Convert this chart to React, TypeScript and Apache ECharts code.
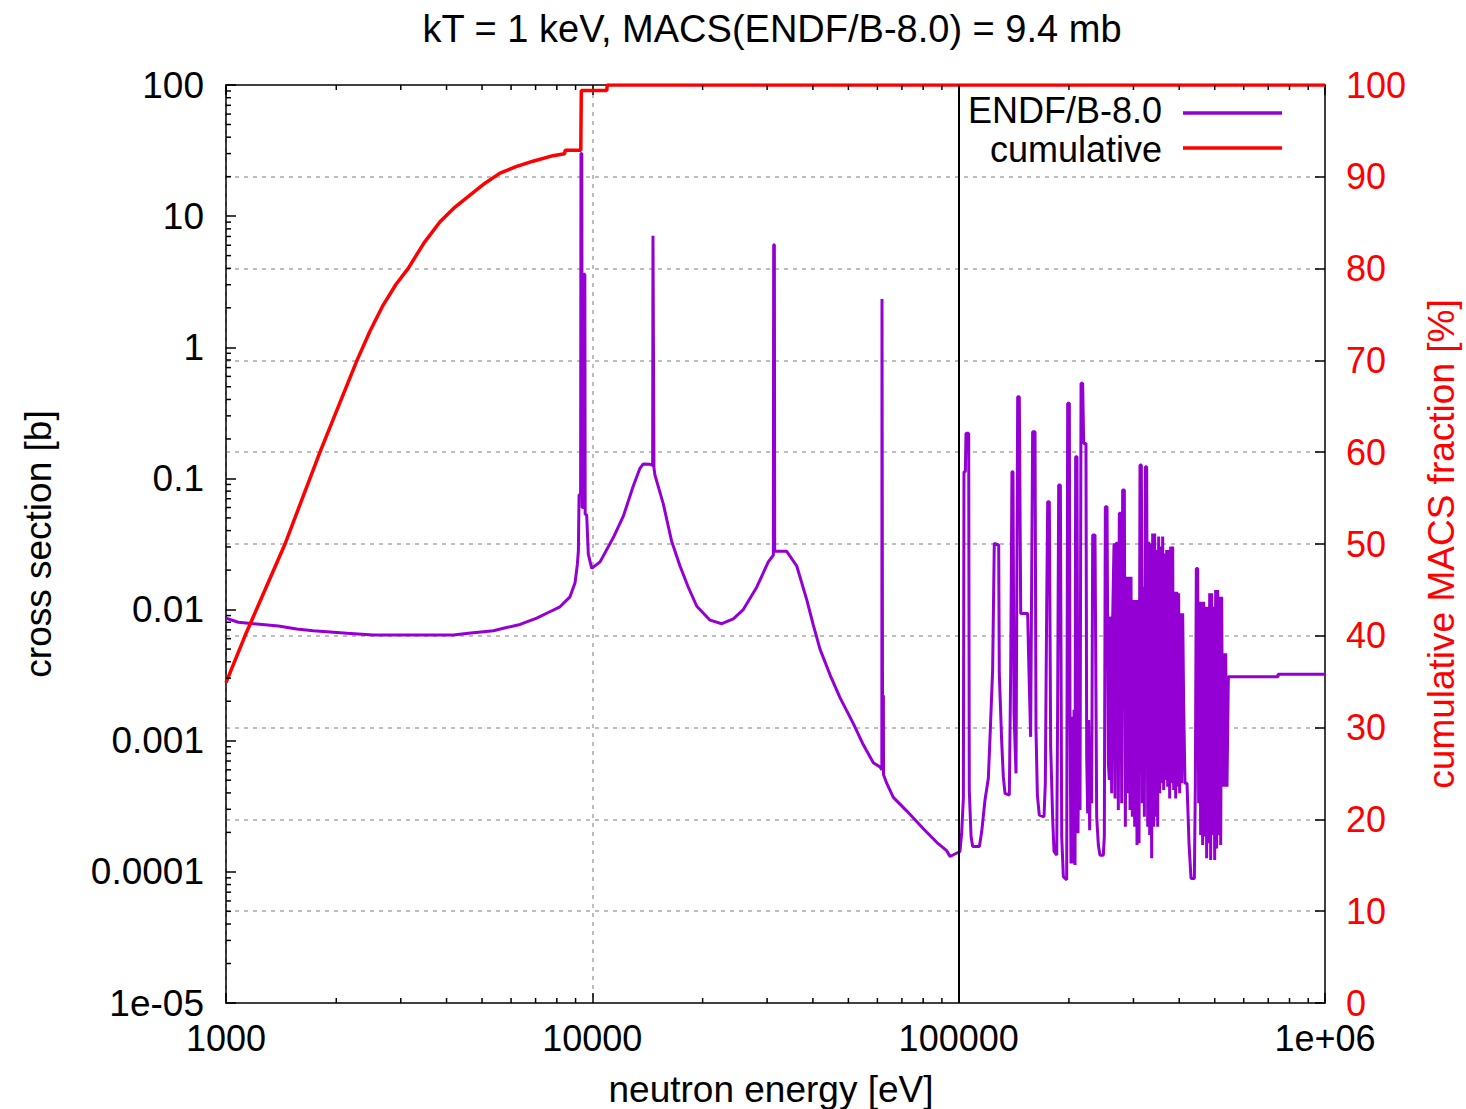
import React, { useEffect, useRef } from 'react';
import * as echarts from 'echarts';

const FONT = '"Liberation Sans", Arial, Helvetica, sans-serif';
const PURPLE = '#9400d3';
const RED = '#ff0000';

// ---- tick labels ----
const xTickValues = [1000, 10000, 100000, 1000000];
const xTickLabels = ['1000', '10000', '100000', '1e+06'];
const yTickValues = [1e-5, 1e-4, 1e-3, 1e-2, 0.1, 1, 10, 100];
const yTickLabels = ['1e-05', '0.0001', '0.001', '0.01', '0.1', '1', '10', '100'];
const xMinorTicks = [
  2000, 3000, 4000, 5000, 6000, 7000, 8000, 9000,
  20000, 30000, 40000, 50000, 60000, 70000, 80000, 90000,
  200000, 300000, 400000, 500000, 600000, 700000, 800000, 900000,
];
const yMinorTicks = [
  2e-5, 3e-5, 4e-5, 5e-5, 6e-5, 7e-5, 8e-5, 9e-5,
  2e-4, 3e-4, 4e-4, 5e-4, 6e-4, 7e-4, 8e-4, 9e-4,
  0.002, 0.003, 0.004, 0.005, 0.006, 0.007, 0.008, 0.009,
  0.02, 0.03, 0.04, 0.05, 0.06, 0.07, 0.08, 0.09,
  0.2, 0.3, 0.4, 0.5, 0.6, 0.7, 0.8, 0.9,
  2, 3, 4, 5, 6, 7, 8, 9,
  20, 30, 40, 50, 60, 70, 80, 90,
];

// ---- ENDF/B-8.0 cross section [eV, barn] ----
const xsLowEnergy: number[][] = [
  [1000, 0.0086], [1080, 0.0080], [1390, 0.0075], [1560, 0.0071], [1730, 0.0069], [2140, 0.0066],
  [2520, 0.0064], [4170, 0.0064], [4590, 0.0066], [5370, 0.0069], [5720, 0.0072], [6350, 0.0077],
  [7050, 0.0086], [7580, 0.0095], [8160, 0.0105], [8690, 0.0125], [8970, 0.016], [9100, 0.022], [9160, 0.028],
];
const xsResolved: number[][] = [
  [9200, 0.075], [9290, 0.075], [9310, 30], [9360, 30], [9380, 0.06], [9470, 0.06], [9490, 3.6], [9540, 3.6],
  [9560, 0.053], [9650, 0.053], [9750, 0.0265], [9960, 0.0206], [10500, 0.0231], [11410, 0.0354],
  [12150, 0.0515], [12935, 0.0875], [13490, 0.1195], [13772, 0.129], [14370, 0.128], [14610, 0.126],
  [14640, 7.1], [14700, 7.1], [14730, 0.12], [14825, 0.106], [15620, 0.064], [16470, 0.033],
  [17350, 0.0215], [18280, 0.0148], [19280, 0.0106], [20960, 0.0083], [22560, 0.0078], [24260, 0.0085],
  [25830, 0.0100], [28100, 0.0148], [30220, 0.0231], [31200, 0.026], [31260, 6.05], [31400, 6.05],
  [31460, 0.0278], [33930, 0.0278], [36140, 0.0215], [38480, 0.0119], [40110, 0.0076], [41830, 0.00499],
  [44550, 0.00318], [47430, 0.00213], [51580, 0.00135], [54930, 0.00093], [58480, 0.00068], [61000, 0.00063],
  [61700, 0.0006], [61760, 2.33], [61900, 2.33], [61960, 0.0022], [62300, 0.0022], [62360, 0.00055],
  [63610, 0.000474], [66310, 0.00037], [72110, 0.000292], [80100, 0.000213], [87100, 0.000168], [92750, 0.000145],
];
const xsUnresolvedA: number[][] = [
  [94700, 1.31e-4], [100800, 1.43e-4], [101900, 1.97e-4], [103000, 3.64e-4], [103400, 0.1126], [104300, 0.1126],
  [104700, 0.221], [106500, 0.221], [106900, 4.21e-4], [108100, 1.86e-4], [109200, 1.56e-4], [113900, 1.56e-4],
  [115600, 2.03e-4], [118000, 3.53e-4], [120500, 5.17e-4], [121800, 1.07e-3], [123800, 3.46e-3], [125100, 0.032],
  [128600, 0.0311], [129100, 3.26e-3], [131000, 1.01e-3], [132400, 5.32e-4], [133800, 3.97e-4], [137500, 3.85e-4],
  [138700, 3.56e-3], [139800, 0.1126], [140700, 0.1126], [141600, 1.62e-3], [143400, 5.64e-4], [144900, 0.42],
  [146400, 0.42], [147700, 9.35e-3], [154300, 9.35e-3], [155300, 4.12e-3], [157200, 1.07e-3], [159200, 0.227],
  [161600, 0.227], [162600, 1.21e-3], [164000, 3.85e-4], [166000, 2.71e-4], [171000, 2.63e-4], [172400, 4.73e-4],
  [173900, 0.01052], [175000, 0.0665], [176800, 0.0665], [178300, 9.0e-4], [180600, 2.48e-4], [182100, 1.43e-4],
  [185200, 1.34e-4], [186300, 1.93e-3], [187500, 0.0891], [189500, 0.0891], [191100, 1.86e-4], [193100, 9.2e-5],
  [197200, 8.7e-5], [198400, 0.374], [200500, 0.374], [201300, 1.72e-3], [202600, 1.16e-4], [203900, 1.52e-3],
  [205200, 1.16e-4], [206500, 1.72e-3], [207800, 1.13e-4], [208600, 0.1465], [210400, 0.1465], [211700, 1.97e-4],
  [213100, 1.93e-3], [214400, 2.96e-4], [215800, 0.531], [218000, 0.531], [219400, 0.185], [222600, 0.185],
  [223600, 7.56e-4], [225000, 2.79e-4], [226400, 1.44e-3], [227800, 2.08e-4], [229300, 1.07e-3], [230700, 3.33e-4],
  [232200, 0.037], [234100, 0.037],
];
const xsUnresolvedB: number[][] = [
  [235600, 0.037], [238100, 2.63e-4], [240600, 1.6e-4], [243100, 1.34e-4], [248300, 1.34e-4], [249800, 1.86e-4],
  [251400, 0.0609], [254100, 0.0609], [256200, 6.73e-4], [257800, 5.02e-4], [259400, 0.00884], [261600, 3.97e-4],
  [263300, 0.00884], [265500, 0.032], [267200, 3.63e-4], [268800, 0.032], [271100, 0.032], [272800, 2.96e-4],
  [274500, 0.0542], [276800, 0.0542], [278600, 3.33e-4], [280300, 0.0816], [283300, 0.0816], [285100, 2.21e-4],
  [286900, 0.0178], [289300, 3.97e-4], [291100, 0.0178], [293600, 2.96e-4], [295400, 0.0178], [297900, 2.63e-4],
  [299800, 0.01182], [302300, 2.21e-4], [304200, 0.01182], [306800, 1.6e-4], [308700, 0.01182], [310700, 1.65e-4],
  [312600, 0.1266], [315300, 0.1266], [317200, 3.33e-4], [319200, 0.01494], [321300, 2.63e-4], [323300, 0.1229],
  [326000, 0.1229], [328100, 2.21e-4], [330100, 0.0329], [332200, 1.91e-4], [334300, 0.032], [336400, 1.27e-4],
  [338500, 0.0381], [340700, 2.21e-4], [342800, 0.0381], [345000, 2.63e-4], [347100, 0.0285], [349300, 2.21e-4],
  [351500, 0.036], [353800, 3.97e-4], [356000, 0.0302], [358200, 4.73e-4], [360500, 0.036], [362800, 4.21e-4],
  [365100, 0.0268], [367400, 5.02e-4], [369700, 0.0285], [372000, 4.46e-4], [374400, 0.0285], [376700, 3.63e-4],
  [379100, 0.0302], [381500, 4.73e-4], [383900, 0.0302], [386300, 4.21e-4], [388700, 0.01369], [391200, 3.63e-4],
  [393700, 0.01369], [396100, 4.46e-4], [398600, 0.01331], [401100, 3.97e-4], [403700, 0.00937], [406200, 4.73e-4],
  [408800, 0.00937], [411400, 0.00182], [414800, 4.73e-4], [420100, 4.73e-4], [425400, 1.65e-4], [430800, 8.9e-5],
  [439900, 8.9e-5], [442700, 4.73e-4], [445400, 0.0206], [449200, 0.0206], [452000, 3.33e-4], [454900, 0.01149],
  [457700, 1.91e-4], [460600, 0.01149], [463500, 1.6e-4], [466500, 0.01149], [469400, 1.86e-4], [472400, 0.01052],
  [475300, 1.27e-4], [478300, 0.01052], [481400, 1.65e-4], [484400, 0.01331], [487400, 1.23e-4], [490500, 0.01331],
  [493600, 1.91e-4], [496700, 0.01052], [499900, 1.23e-4], [503000, 0.0141], [506200, 1.51e-4], [509400, 0.0141],
  [512600, 1.91e-4], [515800, 0.01255], [519100, 1.6e-4], [522300, 0.01255], [525600, 4.46e-4], [528900, 0.00464],
  [532300, 4.46e-4], [535600, 0.00464], [540100, 4.46e-4], [544700, 0.00308],
];
const xsHighEnergy: number[][] = [
  [744300, 0.00308], [744300, 0.00321], [1000000, 0.00321],
];

// ---- cumulative MACS fraction [eV, %] ----
const cumulative: number[][] = [
  [1000, 34.9], [1127, 40], [1449, 50], [1805, 60], [2278, 70], [2473, 73.2], [2683, 76.0], [2912, 78.3],
  [3140, 80], [3472, 82.8], [3839, 85.1], [4219, 86.7], [4634, 88], [5093, 89.3], [5598, 90.4], [6188, 91.1],
  [6887, 91.7], [7809, 92.3], [8400, 92.5], [8430, 92.9], [9300, 92.9], [9330, 99.4],
  [10950, 99.4], [10980, 100], [1000000, 100],
];

const kTMarkerEnergy = 100000;

const sameLog = (a: number, b: number) => Math.abs(Math.log10(a) - Math.log10(b)) < 1e-6;
const fmtX = (v: number) => {
  const i = xTickValues.findIndex((t) => sameLog(t, v));
  return i >= 0 ? xTickLabels[i] : '';
};
const fmtY = (v: number) => {
  const i = yTickValues.findIndex((t) => sameLog(t, v));
  return i >= 0 ? yTickLabels[i] : '';
};

export default function App() {
  const ref = useRef<HTMLDivElement>(null);
  useEffect(() => {
    if (!ref.current) return;
    const chart = echarts.init(ref.current, undefined, { renderer: 'svg' });
    const axisLine = { show: true, onZero: false, lineStyle: { color: '#000', width: 1.5 } };
    const tick = { show: true, inside: true, length: 10, lineStyle: { color: '#000', width: 1.5 } };
    const grid = { color: '#a8a8a8', type: [4, 5], width: 1.5 };
    const labelStyle = { color: '#000', fontSize: 36, lineHeight: 30, fontFamily: FONT };

    const xsAll = [...xsLowEnergy, ...xsResolved, ...xsUnresolvedA, ...xsUnresolvedB, ...xsHighEnergy];

    const option: any = {
      animation: false,
      backgroundColor: '#ffffff',
      grid: { left: 226, top: 85, width: 1099, height: 918, containLabel: false },
      xAxis: [
        {
          type: 'log', logBase: 10, min: 1000, max: 1000000, position: 'bottom',
          axisLine, axisTick: tick,
          axisLabel: { ...labelStyle, margin: 20, formatter: fmtX, showMinLabel: true, showMaxLabel: true },
          splitLine: { show: true, showMinLine: false, showMaxLine: false, lineStyle: grid },
        },
        {
          type: 'log', logBase: 10, min: 1000, max: 1000000, position: 'top',
          axisLine, axisTick: tick, axisLabel: { show: false }, splitLine: { show: false },
        },
      ],
      yAxis: [
        {
          type: 'log', logBase: 10, min: 1e-5, max: 100, position: 'left',
          axisLine, axisTick: tick,
          axisLabel: {
            ...labelStyle, fontSize: 37, margin: 22, padding: [0, 0, 7, 0],
            formatter: fmtY, showMinLabel: true, showMaxLabel: true,
          },
          splitLine: { show: false },
        },
        {
          type: 'value', min: 0, max: 100, interval: 10, position: 'right',
          axisLine, axisTick: tick,
          axisLabel: { ...labelStyle, color: RED, margin: 21, padding: [0, 0, 7, 0] },
          splitLine: { show: true, showMinLine: false, showMaxLine: false, lineStyle: grid },
        },
      ],
      series: [
        {
          type: 'custom', name: 'xminor', xAxisIndex: 0, yAxisIndex: 0, silent: true, z: 5,
          data: xMinorTicks.map((v) => [v, 1e-5]),
          renderItem: (_p: any, api: any) => {
            const v = api.value(0);
            const b = api.coord([v, 1e-5]);
            const t = api.coord([v, 100]);
            const st = { stroke: '#000', lineWidth: 1.5 };
            return {
              type: 'group',
              children: [
                { type: 'line', shape: { x1: b[0], y1: b[1], x2: b[0], y2: b[1] - 5 }, style: st },
                { type: 'line', shape: { x1: t[0], y1: t[1], x2: t[0], y2: t[1] + 5 }, style: st },
              ],
            };
          },
        },
        {
          type: 'custom', name: 'yminor', xAxisIndex: 0, yAxisIndex: 0, silent: true, z: 5,
          data: yMinorTicks.map((v) => [1000, v]),
          renderItem: (_p: any, api: any) => {
            const p = api.coord([1000, api.value(1)]);
            return {
              type: 'line',
              shape: { x1: p[0], y1: p[1], x2: p[0] + 5, y2: p[1] },
              style: { stroke: '#000', lineWidth: 1.5 },
            };
          },
        },
        {
          type: 'line', name: 'ENDF/B-8.0', xAxisIndex: 0, yAxisIndex: 0,
          data: xsAll, showSymbol: false, symbol: 'none', z: 3,
          lineStyle: { color: PURPLE, width: 3 }, itemStyle: { color: PURPLE },
          emphasis: { disabled: true }, silent: true,
          markLine: {
            silent: true, symbol: ['none', 'none'], label: { show: false },
            lineStyle: { color: '#000', width: 2, type: 'solid' },
            data: [{ xAxis: kTMarkerEnergy }],
          },
        },
        {
          type: 'line', name: 'cumulative', xAxisIndex: 0, yAxisIndex: 1,
          data: cumulative, showSymbol: false, symbol: 'none', z: 4,
          lineStyle: { color: RED, width: 3.5 }, itemStyle: { color: RED },
          emphasis: { disabled: true }, silent: true,
        },
      ],
      graphic: [
        {
          type: 'text', x: 772, y: 29,
          style: { text: 'kT = 1 keV, MACS(ENDF/B-8.0) = 9.4 mb', fill: '#000', font: `38px ${FONT}`, textAlign: 'center', textVerticalAlign: 'middle' },
        },
        {
          type: 'text', x: 771, y: 1089,
          style: { text: 'neutron energy [eV]', fill: '#000', font: `37px ${FONT}`, textAlign: 'center', textVerticalAlign: 'middle' },
        },
        {
          type: 'text', x: 38, y: 544, rotation: Math.PI / 2,
          style: { text: 'cross section [b]', fill: '#000', font: `37px ${FONT}`, textAlign: 'center', textVerticalAlign: 'middle' },
        },
        {
          type: 'text', x: 1441, y: 544, rotation: Math.PI / 2,
          style: { text: 'cumulative MACS fraction [%]', fill: RED, font: `37px ${FONT}`, textAlign: 'center', textVerticalAlign: 'middle' },
        },
        {
          type: 'text', x: 1162, y: 110, z: 20,
          style: { text: 'ENDF/B-8.0', fill: '#000', font: `36px ${FONT}`, lineHeight: 30, textAlign: 'right', textVerticalAlign: 'middle' },
        },
        {
          type: 'line', z: 20, shape: { x1: 1183, y1: 113, x2: 1282, y2: 113 },
          style: { stroke: PURPLE, lineWidth: 3.5 },
        },
        {
          type: 'text', x: 1162, y: 149, z: 20,
          style: { text: 'cumulative', fill: '#000', font: `36px ${FONT}`, lineHeight: 30, textAlign: 'right', textVerticalAlign: 'middle' },
        },
        {
          type: 'line', z: 20, shape: { x1: 1183, y1: 148, x2: 1282, y2: 148 },
          style: { stroke: RED, lineWidth: 3.5 },
        },
      ],
    };
    chart.setOption(option);
    return () => chart.dispose();
  }, []);
  return (
    <div
      ref={ref}
      style={{ position: 'fixed', left: 0, top: 0, width: 1466, height: 1109, background: '#fff' }}
    />
  );
}
